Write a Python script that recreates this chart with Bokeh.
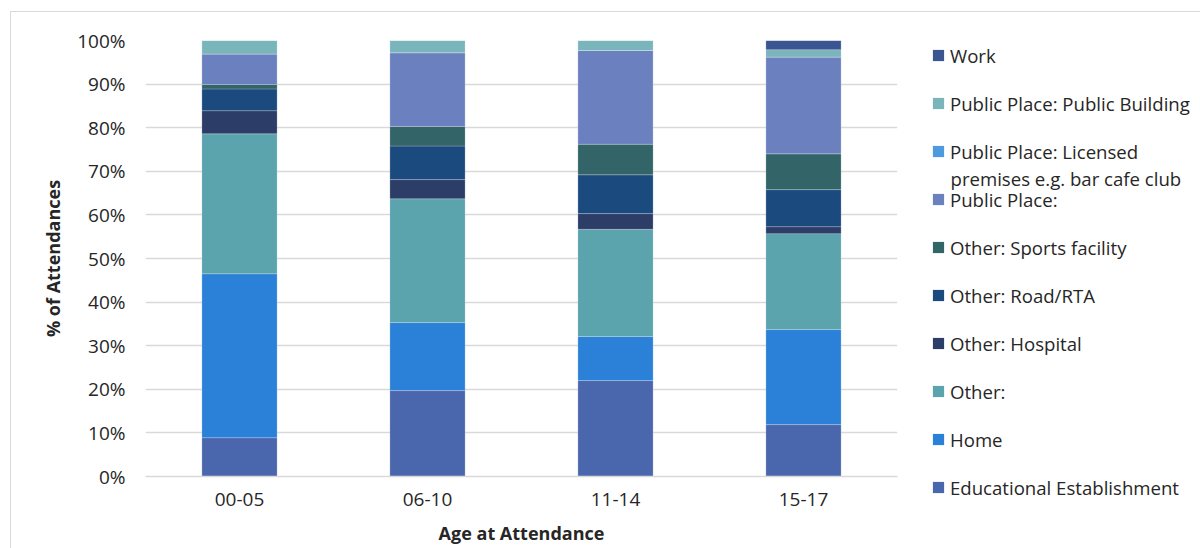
from bokeh.plotting import figure
from bokeh.layouts import row
from bokeh.models import (FactorRange, Range1d, Legend, LegendItem, Label,
                          SingleIntervalTicker, PrintfTickFormatter, InlineStyleSheet)
from bokeh.embed import file_html
from bokeh.resources import INLINE

ages = ["00-05", "06-10", "11-14", "15-17"]
educational = [8.9, 19.7, 22.0, 11.9]
home = [37.6, 15.6, 10.1, 21.8]
other = [32.1, 28.4, 24.6, 22.0]
hospital = [5.3, 4.4, 3.6, 1.6]
road = [5.0, 7.7, 8.9, 8.5]
sports = [1.0, 4.5, 7.0, 8.2]
public_place = [7.0, 16.9, 21.5, 22.2]
licensed = [0.0, 0.0, 0.0, 0.0]
public_building = [3.1, 2.8, 2.3, 1.7]
work = [0.0, 0.0, 0.0, 2.1]

series_names = ["Educational Establishment", "Home", "Other:", "Other: Hospital",
                "Other: Road/RTA", "Other: Sports facility", "Public Place:",
                "Public Place: Licensed",
                "Public Place: Public Building", "Work"]
licensed_label_cont = "premises e.g. bar cafe club"
series_values = [educational, home, other, hospital, road, sports, public_place,
                 licensed, public_building, work]
colors = ["#4a66ac", "#2b80d8", "#5ba3ad", "#2c3e68", "#1b4b7e", "#336467",
          "#6b81bf", "#4e9ade", "#7ab5bc", "#3a5592"]

FONT = "Open Sans"
TEXT_COLOR = "#262626"
keys = [f"s{i}" for i in range(len(series_values))]
data = {"age": ages}
for k, v in zip(keys, series_values):
    data[k] = v

H = 548
p = figure(x_range=FactorRange(*ages), y_range=Range1d(0, 100),
           width=905, height=H, output_backend="svg", toolbar_location=None,
           min_border_left=145, min_border_right=8, min_border_top=40,
           min_border_bottom=72)

p.vbar_stack(keys, x="age", width=0.4, source=data, color=colors,
             line_color="white", line_alpha=0.35, line_width=0.6)

p.outline_line_color = None
p.xgrid.grid_line_color = None
p.ygrid.grid_line_color = "#d9d9d9"
p.ygrid.grid_line_width = 1.3
p.yaxis.ticker = SingleIntervalTicker(interval=10)
p.yaxis.formatter = PrintfTickFormatter(format="%d%%")
p.yaxis.axis_line_color = None
p.yaxis.major_tick_line_color = None
p.yaxis.minor_tick_line_color = None
p.xaxis.axis_line_color = "#d9d9d9"
p.xaxis.axis_line_width = 1.3
p.xaxis.major_tick_line_color = None
p.xaxis.minor_tick_line_color = None
p.x_range.range_padding = 0

for ax in (p.xaxis[0], p.yaxis[0]):
    ax.major_label_text_font = FONT
    ax.major_label_text_font_size = "19px"
    ax.major_label_text_color = TEXT_COLOR
    ax.axis_label_text_font = FONT
    ax.axis_label_text_font_size = "18px"
    ax.axis_label_text_font_style = "bold"
    ax.axis_label_text_color = TEXT_COLOR

p.yaxis.major_label_standoff = 14
p.yaxis.axis_label = "% of Attendances"
p.yaxis.axis_label_standoff = 9
p.xaxis.major_label_standoff = 10
p.xaxis.axis_label = "Age at Attendance"
p.xaxis.axis_label_standoff = 12

# legend panel
LW = 1200 - 905
pl = figure(x_range=Range1d(0, LW), y_range=Range1d(0, H), width=LW, height=H,
            output_backend="svg", toolbar_location=None,
            min_border_left=0, min_border_right=0, min_border_top=0, min_border_bottom=0)
pl.frame_align = False
pl.axis.visible = False
pl.grid.visible = False
pl.outline_line_color = None

LEG_FONT_SIZE = "18.6px"
items = []
for n, c in zip(series_names, colors):
    r = pl.vbar(x=[0], top=[0], width=0, fill_color=c, line_color=None)
    items.append(LegendItem(label=n, renderers=[r]))
items = items[::-1]
legend = Legend(items=items, location=(26, 37), orientation="vertical",
                glyph_width=14, glyph_height=14, label_height=48, spacing=0,
                padding=0, margin=0, label_standoff=5,
                label_text_font=FONT, label_text_font_size=LEG_FONT_SIZE,
                label_text_color=TEXT_COLOR, background_fill_alpha=0,
                border_line_color=None)
pl.add_layout(legend, "center")

# second line of the wrapped "Licensed premises" legend label
pl.add_layout(Label(x=45, y=H - 178, x_units="screen", y_units="screen",
                    text=licensed_label_cont, text_font=FONT,
                    text_font_size=LEG_FONT_SIZE, text_color=TEXT_COLOR,
                    text_baseline="middle", text_align="left"))

border_css = InlineStyleSheet(css="""
:host { position: relative; }
:host::after {
  content: ""; position: absolute; left: 10px; top: 11px; right: 0; bottom: 0;
  border-top: 1px solid #d9d9d9; border-left: 1px solid #d9d9d9;
  pointer-events: none;
}
""")
layout = row(p, pl, spacing=0, stylesheets=[border_css])
open("out.html", "w").write(file_html(layout, INLINE))
